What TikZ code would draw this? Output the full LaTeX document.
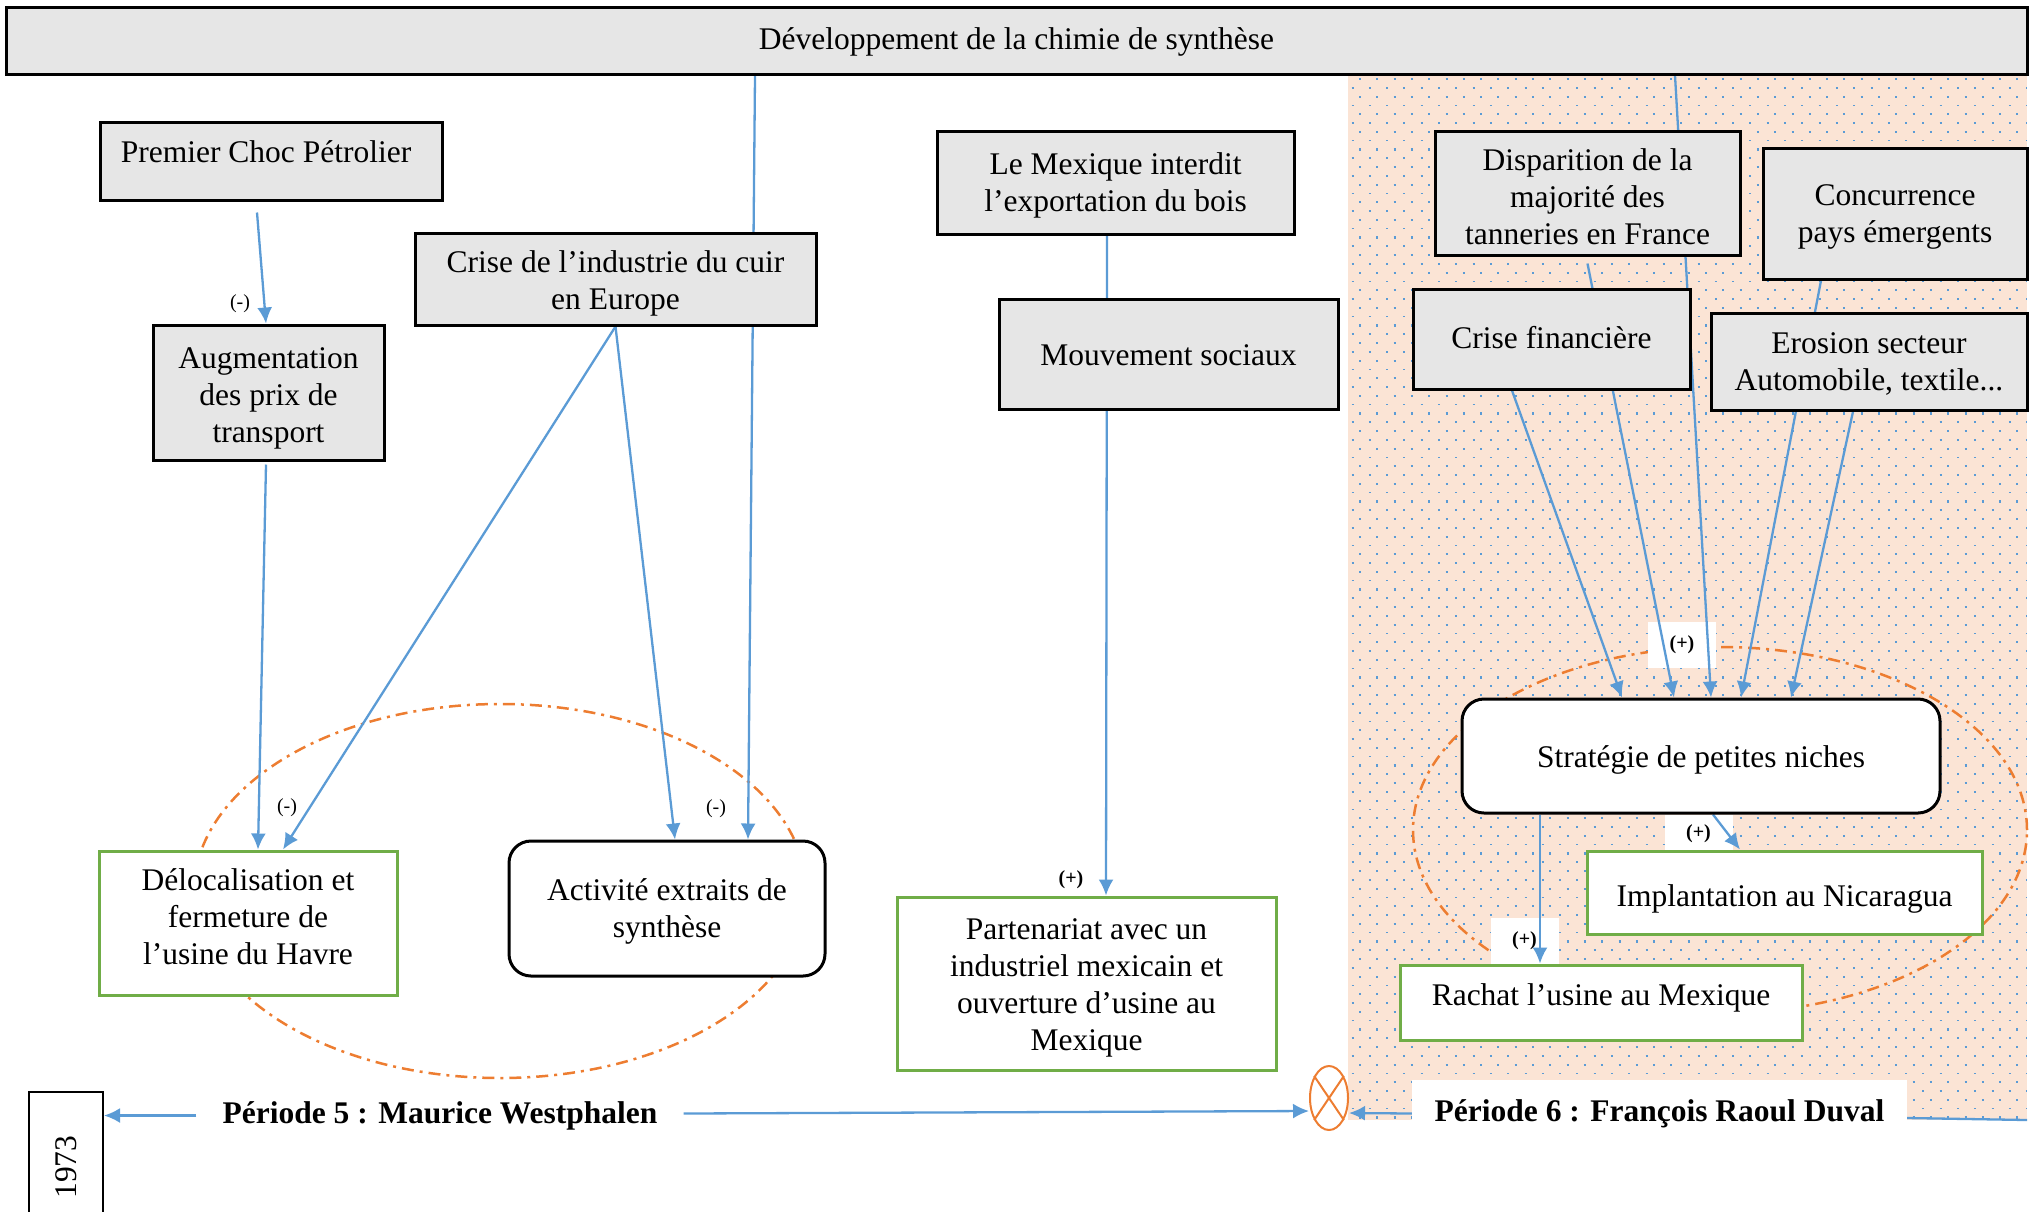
\documentclass[tikz,border=0pt]{standalone}
\usepackage{fontspec}
\usepackage{graphicx}
\setmainfont{Liberation Serif}
\usetikzlibrary{arrows.meta,shapes.geometric}
\definecolor{arrblue}{HTML}{5B9BD5}
\definecolor{boxgray}{HTML}{E6E6E6}
\definecolor{peach}{HTML}{FBE4D5}
\definecolor{orng}{HTML}{ED7D31}
\definecolor{grn}{HTML}{70AD47}
\pgfdeclarelayer{bg}
\pgfdeclarelayer{ell}
\pgfdeclarelayer{lab}
\pgfdeclarelayer{lines}
\pgfsetlayers{bg,ell,lab,lines,main}
\begin{document}
\begin{tikzpicture}[x=1pt,y=-1pt,
  base/.style={font=\fontsize{31.5}{37}\selectfont, align=center, inner sep=0pt, rectangle},
  graybox/.style={base, draw=black, line width=3pt, fill=boxgray},
  greenbox/.style={base, draw=grn, line width=3pt, fill=white},
  roundbox/.style={base, draw=black, line width=3pt, fill=white, rounded corners=22pt},
  arr/.style={draw=arrblue, line width=2.3pt, -{Latex[length=16pt,width=15pt]}},
  conn/.style={draw=arrblue, line width=2.3pt},
  sgn/.style={font=\fontsize{20}{24}\selectfont, inner sep=0pt},
  psgn/.style={font=\fontsize{20}{24}\selectfont\bfseries, inner sep=0pt},
  wlab/.style={psgn, fill=white, minimum width=68pt, minimum height=46pt},
  fbloop/.style={draw=orng, line width=2.5pt, dash pattern=on 12pt off 6pt on 3pt off 6pt},
  period/.style={font=\fontsize{31.5}{37}\selectfont\bfseries, inner ysep=0pt, text height=22pt, text depth=7pt},
]
\useasboundingbox (0,0) rectangle (2033,1211);

% background region of period 6
\begin{pgfonlayer}{bg}
  \fill[peach] (1348,74) rectangle (2027,1120);
  \foreach \i in {0,...,118}{
    \pgfmathsetmacro{\yy}{79+8.8*\i}
    \pgfmathsetmacro{\xs}{ifthenelse(mod(\i,2)==0,1359,1351.5)}
    \pgfmathsetmacro{\lw}{ifthenelse(mod(\i,2)==0,2.2,1.6)}
    \draw[arrblue, line width=\lw pt, dash pattern=on 2pt off 15.3pt] (\xs,\yy) -- (2027,\yy);
  }
\end{pgfonlayer}

% feedback loops
\begin{pgfonlayer}{ell}
  \draw[fbloop] (500,891) ellipse [x radius=306pt, y radius=187pt];
  \draw[fbloop] (1720,830) ellipse [x radius=307pt, y radius=183pt];
\end{pgfonlayer}

% boxes
\node[graybox, minimum width=2021pt, minimum height=67pt, text height=22pt, text depth=5pt] (dev) at (1016.5,40.5) {Développement de la chimie de synthèse};
\node[graybox, minimum width=342pt, minimum height=78pt, text height=22pt, text depth=20pt] (pcp) at (271,161) {Premier Choc Pétrolier\hspace*{10pt}};
\node[graybox, minimum width=231pt, minimum height=135pt, text height=99pt, text depth=0pt] (aug) at (268.5,392.5) {Augmentation\\des prix de\\transport};
\node[graybox, minimum width=401pt, minimum height=92pt, text height=61pt, text depth=0pt] (crisec) at (615.5,279) {Crise de l’industrie du cuir\\en Europe};
\node[graybox, minimum width=357pt, minimum height=103pt, text height=57pt, text depth=0pt] (mex) at (1115.5,182.5) {Le Mexique interdit\\l’exportation du bois};
\node[graybox, minimum width=339pt, minimum height=110pt, text height=22pt, text depth=0pt] (mouv) at (1168.5,354) {Mouvement sociaux};
\node[graybox, minimum width=305pt, minimum height=124pt, text height=103pt, text depth=0pt] (disp) at (1587.5,193) {Disparition de la\\majorité des\\tanneries en France};
\node[graybox, minimum width=264pt, minimum height=131pt, text height=58pt, text depth=0pt] (conc) at (1895,213.5) {Concurrence\\pays émergents};
\node[graybox, minimum width=277pt, minimum height=100pt, text height=22pt, text depth=4pt] (crisef) at (1551.5,339) {Crise financière};
\node[graybox, minimum width=316pt, minimum height=97pt, text height=57pt, text depth=0pt] (eros) at (1869,361.5) {Erosion secteur\\Automobile, textile...};
\node[roundbox, minimum width=478pt, minimum height=114pt, text height=22pt, text depth=0pt] (strat) at (1701,756) {Stratégie de petites niches};
\node[greenbox, minimum width=395pt, minimum height=83pt, text height=27pt, text depth=0pt] (impl) at (1784.5,892.5) {Implantation au Nicaragua};
\node[greenbox, minimum width=402pt, minimum height=75pt, text height=22pt, text depth=17pt] (rachat) at (1601,1002.5) {Rachat l’usine au Mexique};
\node[greenbox, minimum width=298pt, minimum height=144pt, text height=83pt, text depth=0pt] (deloc) at (248,923) {Délocalisation et\\fermeture de\\l’usine du Havre};
\node[roundbox, minimum width=316pt, minimum height=135pt, text height=58pt, text depth=0pt] (act) at (667,908.5) {Activité extraits de\\synthèse};
\node[greenbox, minimum width=379pt, minimum height=173pt, text height=134pt, text depth=0pt] (part) at (1086.5,983.5) {Partenariat avec un\\industriel mexicain et\\ouverture d’usine au\\Mexique};

% timeline
\node[draw=black, line width=2pt, minimum width=74pt, minimum height=170pt, inner sep=0pt, font=\fontsize{31.5}{37}\selectfont, text depth=20pt] (y1973) at (66,1177) {\rotatebox{90}{1973}};
\node[period, inner xsep=26pt] (per5) at (440,1115.5) {Période 5 : Maurice Westphalen};
\node[period, fill=white, minimum width=495pt, inner ysep=19pt] (per6) at (1659.5,1113.5) {Période 6 : François Raoul Duval};
\node[ellipse, draw=orng, line width=2pt, minimum width=38pt, minimum height=64pt, inner sep=0pt] (circ) at (1329,1098) {};
\draw[orng, line width=2pt] (circ.124) -- (circ.304);
\draw[orng, line width=2pt] (circ.56) -- (circ.236);
\coordinate (tlend) at (2027,1120);

% sign labels
\node[sgn] (m1) at (240,304) {(-)};
\node[sgn] (m2) at (287,808) {(-)};
\node[sgn] (m3) at (716,809) {(-)};
\node[psgn] (p1) at (1071,880) {(+)};
\begin{pgfonlayer}{lab}
  \node[wlab] (p2) at (1682,645) {(+)};
  \node[wlab, minimum height=38pt] (p3) at (1698.5,834) {(+)};
  \node[wlab] (p4) at (1524.5,940.5) {(+)};
\end{pgfonlayer}

% connectors
\begin{pgfonlayer}{lines}
  \draw[arr] ([xshift=-14pt,yshift=-11pt]pcp.south) -- ([xshift=-2.5pt]aug.north);
  \draw[arr] ([xshift=-2.5pt,yshift=-3pt]aug.south) -- ([xshift=10pt]deloc.north);
  \draw[arr] (crisec.south) -- ([xshift=35pt]deloc.north);
  \draw[arr] (crisec.south) -- ([xshift=8pt]act.north);
  \draw[arr] ([xshift=-261.5pt]dev.south) -- ([xshift=81pt]act.north);
  \draw[arr] ([xshift=-8.5pt]mex.south) -- ([xshift=19.5pt]part.north);
  \draw[arr] ([xshift=-39.5pt]crisef.south) -- ([xshift=-79pt]strat.north);
  \draw[arr] ([yshift=-7pt]disp.south) -- ([xshift=-27pt]strat.north);
  \draw[arr] ([xshift=658.5pt]dev.south) -- ([xshift=10pt]strat.north);
  \draw[arr] ([xshift=-74pt]conc.south) -- ([xshift=40pt]strat.north);
  \draw[arr] ([xshift=-16pt]eros.south) -- ([xshift=90pt]strat.north);
  \draw[arr] ([xshift=12pt]strat.south) -- ([xshift=-44.5pt]impl.north);
  \draw[arr] ([xshift=-161pt]strat.south) -- ([xshift=-61pt]rachat.north);
  \draw[arr] (per5.west) -- (per5.west -| y1973.east);
  \draw[arr] ([yshift=2pt]per5.east) -- ([yshift=-13pt]circ.west);
  \draw[arr] (per6.west) -- ([yshift=-15pt]circ.east);
  \draw[conn] ([yshift=-4.5pt]per6.east) -- (tlend);
\end{pgfonlayer}
\end{tikzpicture}
\end{document}
